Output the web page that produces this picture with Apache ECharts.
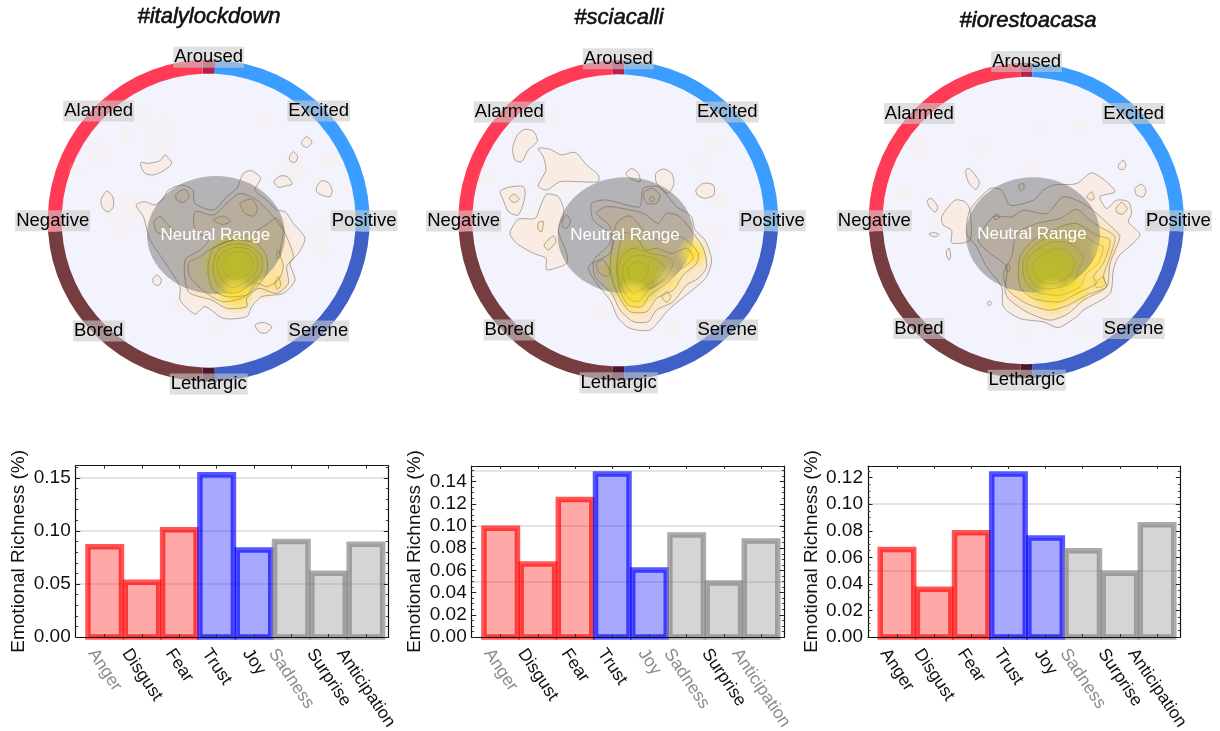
<!DOCTYPE html>
<html><head><meta charset="utf-8">
<style>html,body{margin:0;padding:0;background:#fff}#c{width:1220px;height:731px}</style>
<script src="https://cdn.jsdelivr.net/npm/echarts@6/dist/echarts.min.js"></script>
</head><body><div id="c"></div>
<script>
const categories = ['Anger','Disgust','Fear','Trust','Joy','Sadness','Surprise','Anticipation'];
const catTones = ['neg','neg','neg','pos','pos','oth','oth','oth'];
const italyValues = [0.085,0.0516,0.101,0.153,0.082,0.090,0.060,0.0875];
const sciacalliValues = [0.098,0.0658,0.124,0.147,0.0604,0.092,0.0487,0.0865];
const iorestoValues = [0.066,0.0359,0.0786,0.1228,0.0746,0.065,0.048,0.0846];
const italyMutedLabels = ['Anger','Sadness'];
const sciacalliMutedLabels = ['Anger','Joy','Sadness','Anticipation'];
const iorestoMutedLabels = ['Sadness'];
const circumplexNames = ['Aroused','Alarmed','Excited','Negative','Positive','Bored','Serene','Lethargic','Neutral Range'];
const ringSpans = [4.6,91.7,83.7,4.6,83.7,91.7];
const richnessGridLevels = [0.05,0.10,0.15];

// circumplex positions: [valence, arousal] on each plot's own hidden scale
const italyLabelPts = [[0,490],[-330,329],[330,329],[-468,0],[466,0],[-330,-331],[329,-331],[0,-490],[20,-43]];
const sciacalliLabelPts = [[0,485],[-327,325],[327,325],[-464,-2],[462,-1],[-327,-329],[327,-329],[1,-487],[20,-45]];
const iorestoLabelPts = [[1,477],[-321,321],[322,321],[-456,-1],[456,-1],[-322,-324],[322,-324],[1,-479],[17,-42]];
const italyNeutral = [22,-43,207,177];
const sciacalliNeutral = [22,-45,204,174];
const iorestoNeutral = [20,-43,201,173];

// faint density haze: [x,y,radius]
const italyHaze = [[169,302,40],[-196,312,35],[-131,292,35],[-246,257,35],[-326,202,50],[359,182,40],[334,-18,45],[339,-88,40],[-266,-38,35],[-96,-253,40],[24,-318,35],[-396,152,30],[-240,30,80],[-150,230,60],[250,150,60]];
const sciacalliHaze = [[-195,311,35],[290,231,40],[245,171,40],[-375,-29,40],[-395,131,35],[-55,-279,40],[165,-329,35],[295,-39,40],[305,61,40],[-180,130,90],[-240,-30,90]];
const iorestoHaze = [[41,286,30],[166,281,35],[-139,221,40],[-369,81,40],[11,151,40],[-14,-339,35],[171,-324,35],[241,-259,40],[-319,211,40],[-230,10,70]];
// density peaks: [x,y,radius,kind]
const italyPeaks = [[79,-133,105,0],[84,-223,60,1],[204,-188,38,2],[170,-205,40,2]];
const sciacalliPeaks = [[50,-154,105,0],[45,-229,55,1],[225,-99,50,1],[150,-180,45,2]];
const iorestoPeaks = [[71,-149,105,0],[81,-229,60,1],[231,-89,45,2],[201,-179,45,2],[150,-210,45,1]];

// contour lines: [level, points]
const italyContours = [
[0,[[-218,47],[-191,57],[-161,47],[-136,67],[-121,92],[-81,107],[-48,92],[-41,52],[14,32],[54,72],[84,97],[104,142],[129,150],[156,127],[139,92],[174,62],[204,32],[229,27],[254,-8],[289,-53],[269,-98],[244,-128],[259,-178],[224,-218],[159,-228],[129,-258],[114,-288],[44,-293],[-11,-258],[-41,-280],[-86,-238],[-86,-198],[-136,-118],[-176,-58],[-196,12]]],
[0,[[-203,175],[-181,172],[-146,180],[-131,197],[-111,172],[-136,150],[-166,137],[-191,142],[-203,162]]],
[0,[[279,237],[294,252],[310,237],[296,220],[282,225]]],
[0,[[242,192],[254,207],[267,192],[259,175],[244,180]]],
[0,[[196,117],[214,134],[236,132],[250,110],[229,104],[209,100]]],
[0,[[324,102],[339,120],[359,114],[370,92],[364,72],[339,77],[324,87]]],
[0,[[-323,62],[-306,89],[-288,72],[-286,42],[-301,26],[-318,37]]],
[0,[[-168,-176],[-156,-163],[-142,-176],[-148,-193],[-163,-191]]],
[0,[[139,-313],[164,-305],[189,-318],[174,-336],[154,-336]]],
[1,[[-41,27],[14,17],[54,52],[94,82],[144,62],[194,12],[229,-38],[254,-108],[234,-138],[239,-188],[204,-218],[149,-203],[114,-233],[114,-258],[54,-263],[9,-238],[-61,-213],[-71,-118],[-26,-88],[-1,-58],[-41,-28]]],
[1,[[-164,-3],[-146,12],[-126,-8],[-101,-38],[-126,-43],[-156,-33]]],
[1,[[-98,80],[-71,94],[-58,72],[-76,55],[-96,62]]],
[2,[[-61,-128],[-26,-108],[9,-83],[54,-63],[109,-48],[164,-18],[204,7],[224,-28],[214,-98],[224,-138],[209,-178],[174,-198],[144,-188],[109,-228],[44,-243],[-6,-218],[-56,-168]]],
[2,[[94,52],[129,64],[146,37],[136,14],[109,22]]],
[2,[[14,2],[44,14],[66,-3],[39,-11]]],
[3,[[-1,-128],[14,-83],[74,-58],[144,-68],[174,-108],[174,-158],[144,-198],[114,-223],[54,-228],[14,-208],[-1,-168]]],
[3,[[199,-188],[209,-168],[216,-193],[206,-206]]],
[3,[[204,-98],[210,-88],[214,-108],[206,-113]]],
[4,[[14,-128],[29,-88],[74,-70],[124,-76],[159,-108],[156,-158],[119,-193],[94,-213],[54,-216],[24,-188],[14,-158]]],
[5,[[24,-133],[39,-98],[79,-80],[119,-86],[146,-113],[144,-153],[114,-183],[74,-200],[42,-180]]],
[6,[[39,-133],[52,-106],[82,-92],[114,-98],[132,-120],[129,-148],[104,-168],[74,-176],[49,-158]]]
];
const sciacalliContours = [
[0,[[-303,256],[-280,273],[-253,266],[-243,236],[-270,211],[-290,176],[-310,181],[-317,216]]],
[0,[[-240,216],[-205,213],[-170,196],[-130,204],[-95,166],[-60,136],[-60,116],[-125,116],[-175,116],[-215,91],[-240,103],[-217,151],[-225,191]]],
[0,[[-355,86],[-330,99],[-285,101],[-280,71],[-300,16],[-330,26],[-345,61]]],
[1,[[-327,66],[-313,79],[-297,63],[-313,53]]],
[0,[[-215,78],[-180,71],[-163,26],[-180,-29],[-155,-99],[-155,-129],[-215,-149],[-217,-114],[-255,-99],[-305,-69],[-325,-39],[-300,3],[-250,6],[-230,51]]],
[1,[[-240,-7],[-225,-4],[-230,-34],[-240,-29]]],
[1,[[-223,-74],[-195,-47],[-187,-64],[-210,-89]]],
[0,[[23,141],[40,155],[60,141],[65,116],[35,126]]],
[0,[[113,141],[135,154],[160,141],[167,111],[150,81],[115,111]]],
[0,[[233,91],[255,111],[285,106],[287,76],[260,66],[237,76]]],
[0,[[-35,61],[25,46],[65,41],[75,96],[120,101],[150,71],[175,41],[220,11],[230,-29],[260,-59],[280,-119],[265,-169],[235,-199],[185,-239],[150,-269],[95,-329],[35,-324],[0,-294],[-25,-239],[-65,-189],[-90,-139],[-25,-99],[-15,-49],[-75,1],[-80,51]]],
[1,[[-65,21],[-35,41],[25,33],[75,21],[120,-9],[145,21],[185,11],[225,-39],[255,-84],[265,-139],[240,-174],[205,-194],[165,-244],[115,-269],[90,-304],[45,-304],[5,-269],[-20,-219],[-70,-169],[-73,-119],[-25,-69],[-25,-19]]],
[1,[[75,81],[100,96],[125,76],[115,51],[85,51]]],
[2,[[92,64],[102,71],[110,63],[101,56]]],
[1,[[-167,1],[-155,16],[-143,-4],[-155,-24],[-167,-19]]],
[2,[[-5,-9],[35,13],[75,-29],[115,-59],[155,-39],[205,-59],[240,-99],[235,-129],[195,-164],[165,-209],[115,-234],[85,-274],[35,-274],[5,-234],[-15,-189],[-25,-139]]],
[2,[[130,-229],[145,-214],[158,-229],[145,-246]]],
[2,[[-65,-129],[-45,-119],[-25,-154],[-35,-169],[-60,-154]]],
[3,[[15,-39],[55,-49],[80,-89],[115,-84],[160,-99],[205,-84],[225,-114],[185,-149],[145,-189],[95,-224],[70,-259],[30,-254],[5,-209],[-5,-139]]],
[4,[[10,-109],[45,-84],[95,-99],[145,-109],[165,-129],[140,-174],[90,-209],[60,-244],[30,-234],[10,-199],[0,-149]]],
[5,[[20,-129],[55,-104],[105,-114],[140,-139],[120,-169],[75,-204],[45,-219],[25,-199],[13,-164]]],
[6,[[30,-139],[60,-124],[90,-139],[85,-169],[55,-189],[35,-174]]]
];
const iorestoContours = [
[0,[[-182,151],[-171,156],[-141,116],[-151,93],[-174,116]]],
[0,[[-297,61],[-284,66],[-266,41],[-274,25],[-291,41]]],
[0,[[-292,-41],[-277,-36],[-262,-42],[-274,-49]]],
[0,[[-239,-89],[-231,-84],[-227,-109],[-232,-119],[-239,-104]]],
[0,[[276,166],[291,181],[299,166],[291,153],[278,156]]],
[0,[[326,96],[346,109],[359,91],[351,71],[331,76]]],
[0,[[-117,-247],[-109,-242],[-105,-251],[-113,-255]]],
[1,[[-23,106],[-9,111],[-7,96],[-17,89]]],
[0,[[-254,11],[-214,61],[-184,56],[-169,31],[-169,-59],[-224,-67],[-224,-29],[-249,-14]]],
[0,[[-109,96],[-74,91],[-49,46],[21,61],[51,91],[81,106],[151,111],[196,143],[241,116],[266,86],[221,71],[241,36],[271,61],[306,56],[316,21],[306,-4],[341,-44],[276,-109],[261,-149],[251,-219],[171,-269],[151,-289],[96,-321],[51,-304],[-19,-294],[-69,-259],[-74,-199],[-119,-139],[-149,-79],[-179,-39],[-169,31]]],
[1,[[-44,11],[-9,31],[61,21],[111,71],[171,51],[211,21],[266,-29],[281,-49],[251,-129],[241,-199],[171,-239],[126,-279],[71,-299],[1,-274],[-54,-234],[-64,-209],[-59,-139],[-109,-99],[-144,-59],[-99,11]]],
[1,[[269,36],[286,54],[303,36],[289,19],[273,23]]],
[1,[[181,71],[196,86],[204,66],[193,61]]],
[1,[[-99,11],[-87,19],[-81,9],[-94,3]]],
[2,[[-29,-39],[31,-9],[101,6],[151,33],[191,1],[221,-19],[266,-49],[251,-109],[231,-169],[241,-199],[181,-224],[126,-254],[71,-269],[1,-249],[-54,-209],[-69,-159],[-44,-109]]],
[2,[[-61,-139],[-54,-129],[-49,-149],[-57,-154]]],
[3,[[-19,-109],[21,-59],[101,-19],[151,-9],[211,-44],[251,-59],[231,-129],[201,-169],[211,-189],[151,-219],[101,-244],[21,-234],[-19,-199]]],
[4,[[-9,-119],[31,-69],[101,-39],[161,-39],[211,-69],[231,-79],[216,-129],[181,-159],[161,-199],[101,-224],[31,-214],[-4,-179]]],
[4,[[206,-189],[231,-169],[236,-194],[211,-201]]],
[5,[[1,-119],[36,-84],[81,-64],[131,-69],[171,-109],[156,-149],[141,-184],[81,-204],[31,-199],[6,-164]]],
[6,[[21,-129],[51,-99],[91,-84],[126,-94],[146,-124],[131,-164],[86,-189],[46,-184],[26,-164]]]
];

const panels = [
 {title:'#italylockdown',titleX:204,titleY:12,cx:208.7,cy:220.7,R:161,hole:147,labels:italyLabelPts,neutral:italyNeutral,haze:italyHaze,peaks:italyPeaks,contours:italyContours,
  values:italyValues,muted:italyMutedLabels,g:[75.7,465.7,312.6,171.3],yMax:0.1615,step:0.05,minor:5,dec:2,xMin:0.222,xMax:8.6,nameGap:47},
 {title:'#sciacalli',titleX:614,titleY:13,cx:618.3,cy:220.3,R:160,hole:146,labels:sciacalliLabelPts,neutral:sciacalliNeutral,haze:sciacalliHaze,peaks:sciacalliPeaks,contours:sciacalliContours,
  values:sciacalliValues,muted:sciacalliMutedLabels,g:[471.7,466,312.6,171],yMax:0.1541,step:0.02,minor:4,dec:2,xMin:0.22,xMax:8.626,nameGap:47},
 {title:'#iorestoacasa',titleX:1023,titleY:16,cx:1026.3,cy:220.5,R:157.7,hole:143.7,labels:iorestoLabelPts,neutral:iorestoNeutral,haze:iorestoHaze,peaks:iorestoPeaks,contours:iorestoContours,
  values:iorestoValues,muted:iorestoMutedLabels,g:[868,466,312.3,171],yMax:0.1288,step:0.02,minor:4,dec:2,xMin:0.22,xMax:8.626,nameGap:47}
];

const FONT='"Liberation Sans", Arial, sans-serif';
const ringColors=['#b5214d','#3a9dff','#3f60c6','#4a1530','#753d40','#ff3b55'];
const toneFill={neg:'rgba(255,0,0,0.34)',pos:'rgba(0,0,255,0.34)',oth:'rgba(128,128,128,0.33)'};
const toneEdge={neg:'rgba(255,0,0,0.66)',pos:'rgba(0,0,255,0.66)',oth:'rgba(128,128,128,0.66)'};
const levelFill=['rgba(253,230,208,0.42)','rgba(253,226,180,0.45)','rgba(255,228,140,0.5)','rgba(255,228,100,0.55)','rgba(255,226,70,0.6)','rgba(252,222,50,0.6)','rgba(245,218,35,0.7)'];
const levelLine=['rgba(85,75,70,0.5)','rgba(85,75,70,0.5)','rgba(85,75,70,0.45)','rgba(85,75,70,0.4)','rgba(85,75,70,0.28)','rgba(85,75,70,0.2)','rgba(85,75,70,0.14)'];
const peakStops=[['rgba(188,186,42,1)','rgba(188,186,42,0.8)','rgba(188,186,42,0)'],['rgba(255,222,50,0.95)','rgba(255,225,70,0.6)','rgba(255,225,80,0)'],['rgba(255,215,110,0.6)','rgba(255,222,120,0.35)','rgba(255,225,130,0)']];
const measure=document.createElement('canvas').getContext('2d');
measure.font='17.5px '+FONT;

const grid=[],xAxis=[],yAxis=[],series=[],title=[];
const hidden=(i,ext)=>({show:false,gridIndex:i,type:'value',min:-ext,max:ext});
panels.forEach((p,i)=>{
  title.push({text:p.title,left:p.titleX,top:p.titleY,textAlign:'center',textVerticalAlign:'middle',
    textStyle:{fontFamily:FONT,fontStyle:'italic',fontWeight:'normal',fontSize:22,color:'#111',textBorderColor:'#111',textBorderWidth:0.6}});
  grid.push({left:p.cx-p.R,top:p.cy-p.R,width:2*p.R,height:2*p.R});
  const ext=p.R*3;
  xAxis.push(hidden(i,ext)); yAxis.push(hidden(i,ext));
  series.push({type:'pie',silent:true,z:1,center:[p.cx,p.cy],radius:[0,p.hole],label:{show:false},data:[{value:1,itemStyle:{color:'#f3f3fd'}}]});
  series.push({type:'pie',silent:true,z:1,center:[p.cx,p.cy],radius:[p.hole,p.R],startAngle:92.3,clockwise:true,label:{show:false},labelLine:{show:false},
    itemStyle:{borderWidth:0},data:ringSpans.map((v,k)=>({value:v,itemStyle:{color:ringColors[k]}}))});
  const common={type:'custom',silent:true,coordinateSystem:'cartesian2d',xAxisIndex:i,yAxisIndex:i};
  series.push({...common,z:2,data:p.haze.map(d=>d.slice(0,2)),renderItem:(q,api)=>{
    const h=p.haze[q.dataIndex],c=api.coord([h[0],h[1]]),r=api.size([h[2],0])[0];
    return {type:'circle',shape:{cx:c[0],cy:c[1],r},style:{fill:new echarts.graphic.RadialGradient(.5,.5,.5,[{offset:0,color:'rgba(253,232,215,0.32)'},{offset:1,color:'rgba(253,232,215,0)'}])}};
  }});
  series.push({...common,z:2,data:p.contours.map(c=>c[1][0]),renderItem:(q,api)=>{
    const c=p.contours[q.dataIndex];
    return {type:'polygon',shape:{points:c[1].map(pt=>api.coord(pt)),smooth:0.25},style:{fill:levelFill[c[0]],shadowBlur:8,shadowColor:levelFill[c[0]]}};
  }});
  series.push({...common,z:3,data:[p.neutral.slice(0,2)],renderItem:(q,api)=>{
    const n=p.neutral,c=api.coord([n[0],n[1]]),s=api.size([n[2],n[3]]);
    return {type:'ellipse',shape:{cx:c[0],cy:c[1],rx:s[0],ry:s[1]},style:{fill:'rgba(128,128,128,0.55)'}};
  }});
  series.push({...common,z:4,data:p.peaks.map(d=>d.slice(0,2)),renderItem:(q,api)=>{
    const h=p.peaks[q.dataIndex],c=api.coord([h[0],h[1]]),r=api.size([h[2],0])[0],col=peakStops[h[3]];
    return {type:'circle',shape:{cx:c[0],cy:c[1],r},style:{fill:new echarts.graphic.RadialGradient(.5,.5,.5,[{offset:0,color:col[0]},{offset:.5,color:col[1]},{offset:1,color:col[2]}])}};
  }});
  series.push({...common,z:5,data:p.contours.map(c=>c[1][0]),renderItem:(q,api)=>{
    const c=p.contours[q.dataIndex];
    return {type:'polygon',shape:{points:c[1].map(pt=>api.coord(pt)),smooth:0.25},style:{fill:'none',stroke:levelLine[c[0]],lineWidth:0.9}};
  }});
  series.push({...common,z:8,data:p.labels,renderItem:(q,api)=>{
    const k=q.dataIndex,c=api.coord(p.labels[k]),name=circumplexNames[k],neutral=name==='Neutral Range';
    return {type:'text',x:c[0],y:c[1],style:neutral?{text:name,fill:'#fff',font:'17px '+FONT,align:'center',verticalAlign:'middle'}
      :{text:name,fill:'#000',font:'18.5px '+FONT,align:'center',verticalAlign:'middle',backgroundColor:'rgba(204,204,204,0.6)',padding:[1,1,1,1]}};
  }});
});
panels.forEach((p,i)=>{
  const gi=3+i, gi2=6+i;
  grid.push({left:p.g[0],top:p.g[1],width:p.g[2],height:p.g[3],show:false});
  const ticks=categories.map((_,k)=>k+1);
  const tk={show:true,inside:true,length:3,lineStyle:{color:'#333',width:1},customValues:ticks};
  xAxis[gi]={type:'value',gridIndex:i+3,min:p.xMin,max:p.xMax,position:'bottom',z:6,splitLine:{show:false},
    axisLine:{show:true,onZero:false,lineStyle:{color:'#111',width:1.2}},axisTick:tk,axisLabel:{show:false}};
  xAxis[gi2]={type:'value',gridIndex:i+3,min:p.xMin,max:p.xMax,position:'top',z:6,splitLine:{show:false},
    axisLine:{show:true,onZero:false,lineStyle:{color:'#111',width:1.2}},axisTick:tk,axisLabel:{show:false}};
  const yc={type:'value',gridIndex:i+3,min:0,max:p.yMax,interval:p.step,z:6,splitLine:{show:false},
    axisLine:{show:true,onZero:false,lineStyle:{color:'#111',width:1.2}},
    axisTick:{show:true,inside:true,length:4.5,lineStyle:{color:'#222',width:1}},
    minorTick:{show:true,splitNumber:p.minor,length:2.5,lineStyle:{color:'#444',width:1}},minorSplitLine:{show:false}};
  yAxis[gi]={...yc,position:'left',name:'Emotional Richness (%)',nameLocation:'middle',nameGap:p.nameGap,nameRotate:90,
    nameTextStyle:{fontFamily:FONT,fontSize:19,color:'#111'},
    axisLabel:{show:true,margin:5,fontFamily:FONT,fontSize:19,color:'#111',formatter:v=>v.toFixed(p.dec)}};
  yAxis[gi2]={...yc,position:'right',axisLabel:{show:false}};
  series.push({type:'custom',silent:true,clip:false,coordinateSystem:'cartesian2d',xAxisIndex:gi,yAxisIndex:gi,z:3,
    encode:{x:0,y:1},data:p.values.map((v,k)=>[k+1,v]),
    renderItem:(q,api)=>{
      const k=q.dataIndex,t=api.coord([api.value(0),api.value(1)]),b=api.coord([api.value(0),0]),tone=catTones[k],w=33.5;
      return {type:'rect',shape:{x:t[0]-w/2,y:t[1],width:w,height:b[1]-t[1]},style:{fill:toneFill[tone],stroke:toneEdge[tone],lineWidth:5.5}};
    },
    markLine:{silent:true,symbol:'none',label:{show:false},z:2,animation:false,lineStyle:{color:'rgba(130,130,130,0.28)',width:1.6,type:'solid'},
      data:richnessGridLevels.filter(v=>v<=p.yMax).map(v=>({yAxis:v}))}});
  series.push({type:'custom',silent:true,coordinateSystem:'cartesian2d',xAxisIndex:gi,yAxisIndex:gi,z:7,data:ticks.map(t=>[t,0]),renderItem:(q,api)=>{
    const k=q.dataIndex,c=api.coord([k+1,0]),name=categories[k],a=56*Math.PI/180;
    const L=measure.measureText(name).width,h=13;
    return {type:'text',x:c[0],y:c[1]+10+(L*Math.sin(a)+h*Math.cos(a))/2,rotation:-a,
      style:{text:name,font:'17.5px '+FONT,fill:p.muted.includes(name)?'#8c8c8c':'#111',align:'center',verticalAlign:'middle'}};
  }});
});
const chart=echarts.init(document.getElementById('c'),null,{renderer:'canvas'});
chart.setOption({animation:false,backgroundColor:'#fff',title,grid,xAxis,yAxis,series});
</script></body></html>
